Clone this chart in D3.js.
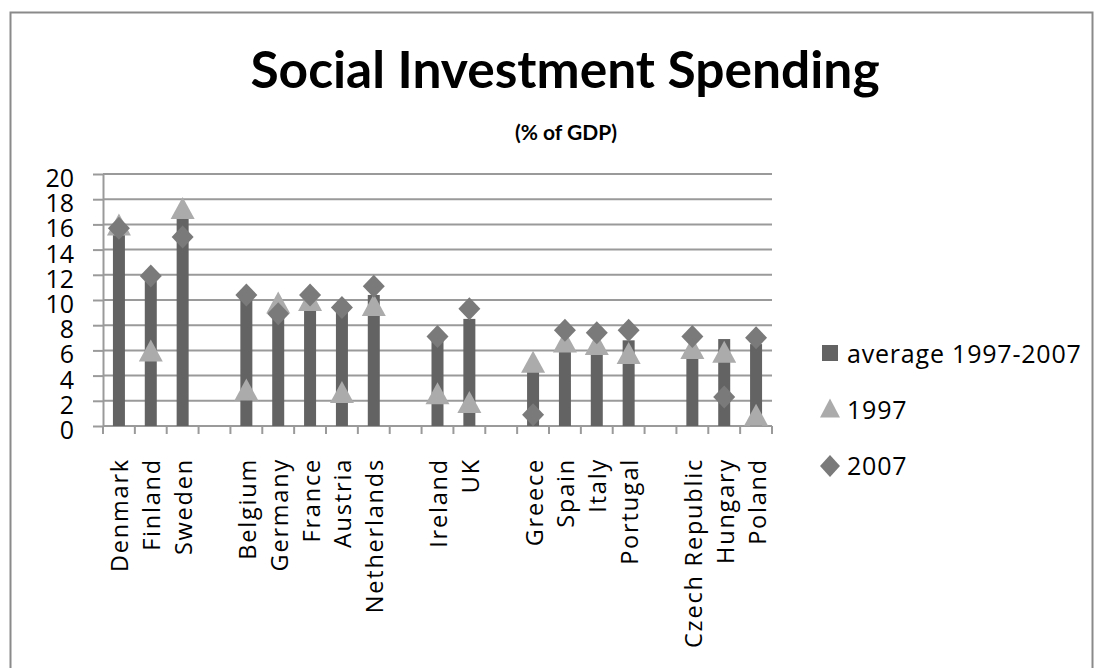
<!DOCTYPE html>
<html>
<head>
<meta charset="utf-8">
<script src="https://cdn.jsdelivr.net/npm/d3@7"></script>
<style>
  body { margin: 0; background: #fff; }
  text { font-family: "Open Sans", sans-serif; fill: #000; }
</style>
</head>
<body>
<div id="chart"></div>
<script>
// Categories (empty strings are the gaps between country groups)
var countries = ["Denmark", "Finland", "Sweden", "",
  "Belgium", "Germany", "France", "Austria", "Netherlands", "",
  "Ireland", "UK", "",
  "Greece", "Spain", "Italy", "Portugal", "",
  "Czech Republic", "Hungary", "Poland"];

// Series values, % of GDP (null = gap)
var avg9707 = [16, 11.5, 16.5, null, 10.2, 9.2, 9.5, 9.1, 10.4, null, 6.8, 8.5, null, 4.3, 6.4, 5.9, 6.8, null, 5.5, 6.9, 6.5];
var v1997 = [16, 6, 17.3, null, 2.9, 9.8, 10, 2.7, 9.6, null, 2.6, 1.9, null, 5.1, 6.7, 6.5, 5.8, null, 6.2, 5.9, 0.9];
var v2007 = [15.7, 11.9, 15, null, 10.4, 8.9, 10.4, 9.4, 11.1, null, 7.1, 9.3, null, 0.9, 7.6, 7.4, 7.6, null, 7.1, 2.3, 7];

var yTicks = [0, 2, 4, 6, 8, 10, 12, 14, 16, 18, 20];

var svgWidth = 1104;
var svgHeight = 668;

var margin = {top: 174, right: 332, bottom: 242, left: 103};
var width = svgWidth - margin.left - margin.right;
var height = svgHeight - margin.top - margin.bottom;

var barColor = "#636363";
var triColor = "#ababab";
var diaColor = "#7a7a7a";
var gridColor = "#9a9a9a";

var svg = d3.select("#chart")
  .append("svg")
  .attr("width", svgWidth)
  .attr("height", svgHeight);

// outer border (runs off the bottom of the picture)
svg.append("rect")
  .attr("x", 10.5)
  .attr("y", 12.5)
  .attr("width", 1082)
  .attr("height", 700)
  .attr("fill", "none")
  .attr("stroke", "#8a8a8a")
  .attr("stroke-width", 2);

// titles
svg.append("text")
  .attr("x", 565)
  .attr("y", 88)
  .attr("text-anchor", "middle")
  .style("font-family", "Lato, sans-serif")
  .style("font-weight", "bold")
  .style("font-size", "51.5px")
  .text("Social Investment Spending");

svg.append("text")
  .attr("x", 566)
  .attr("y", 140)
  .attr("text-anchor", "middle")
  .style("font-family", "Lato, sans-serif")
  .style("font-weight", "bold")
  .style("font-size", "21px")
  .text("(% of GDP)");

var chartGroup = svg.append("g")
  .attr("transform", `translate(${margin.left}, ${margin.top})`);

var idx = d3.range(countries.length);

var xScale = d3.scaleBand()
  .domain(idx)
  .range([0, width])
  .paddingInner(0)
  .paddingOuter(0);

var yScale = d3.scaleLinear()
  .domain([0, 20])
  .range([height, 0]);

// horizontal gridlines
chartGroup.selectAll(".grid")
  .data(yTicks)
  .enter()
  .append("line")
  .attr("x1", 0)
  .attr("x2", width)
  .attr("y1", d => yScale(d))
  .attr("y2", d => yScale(d))
  .attr("stroke", gridColor)
  .attr("stroke-width", 2);

// y axis
var leftAxis = d3.axisLeft(yScale)
  .tickValues(yTicks)
  .tickSize(10)
  .tickSizeOuter(0)
  .tickPadding(19);

var yAxis = chartGroup.append("g").call(leftAxis);
yAxis.select(".domain").attr("stroke", gridColor).attr("stroke-width", 2);
yAxis.selectAll(".tick line").attr("stroke", gridColor).attr("stroke-width", 2);
yAxis.selectAll("text")
  .attr("dy", "0.5em")
  .style("font-family", "'Open Sans', sans-serif")
  .style("font-size", "25px")
  .attr("fill", "#000");

// x axis baseline and tick marks at band edges
chartGroup.append("line")
  .attr("x1", 0)
  .attr("x2", width)
  .attr("y1", height)
  .attr("y2", height)
  .attr("stroke", gridColor)
  .attr("stroke-width", 2);

chartGroup.selectAll(".xtick")
  .data(idx.concat([countries.length]))
  .enter()
  .append("line")
  .attr("x1", d => d * xScale.step())
  .attr("x2", d => d * xScale.step())
  .attr("y1", height)
  .attr("y2", height + 8)
  .attr("stroke", gridColor)
  .attr("stroke-width", 2);

// category labels, rotated
chartGroup.selectAll(".xlabel")
  .data(idx)
  .enter()
  .append("text")
  .attr("transform", d => `translate(${xScale(d) + xScale.bandwidth() / 2 + 1}, ${height + 32}) rotate(-90)`)
  .attr("dy", "0.36em")
  .attr("text-anchor", "end")
  .style("font-size", "23.5px")
  .style("letter-spacing", "1.8px")
  .text(d => countries[d]);

var barW = 12;

// bars: average 1997-2007
chartGroup.selectAll(".bar")
  .data(idx.filter(i => avg9707[i] != null))
  .enter()
  .append("rect")
  .attr("x", d => xScale(d) + xScale.bandwidth() / 2 - barW / 2)
  .attr("y", d => yScale(avg9707[d]))
  .attr("width", barW)
  .attr("height", d => height - yScale(avg9707[d]))
  .attr("fill", barColor);

function triPath(w, h) {
  return `M0,${-h / 2}L${w / 2},${h / 2}L${-w / 2},${h / 2}Z`;
}
function diaPath(w, h) {
  return `M0,${-h / 2}L${w / 2},0L0,${h / 2}L${-w / 2},0Z`;
}

// 1997 triangles
chartGroup.selectAll(".tri")
  .data(idx.filter(i => v1997[i] != null))
  .enter()
  .append("path")
  .attr("d", triPath(24, 22))
  .attr("transform", d => `translate(${xScale(d) + xScale.bandwidth() / 2}, ${yScale(v1997[d])})`)
  .attr("fill", triColor);

// 2007 diamonds
chartGroup.selectAll(".dia")
  .data(idx.filter(i => v2007[i] != null))
  .enter()
  .append("path")
  .attr("d", diaPath(22, 23))
  .attr("transform", d => `translate(${xScale(d) + xScale.bandwidth() / 2}, ${yScale(v2007[d])})`)
  .attr("fill", diaColor);

// legend
var legend = svg.append("g").attr("transform", "translate(830, 0)");

legend.append("rect")
  .attr("x", -8).attr("y", 345).attr("width", 16).attr("height", 16)
  .attr("fill", barColor);
legend.append("path")
  .attr("d", triPath(20, 19))
  .attr("transform", "translate(0, 408)")
  .attr("fill", triColor);
legend.append("path")
  .attr("d", diaPath(20, 22))
  .attr("transform", "translate(0, 466)")
  .attr("fill", diaColor);

var legendItems = ["average 1997-2007", "1997", "2007"];
var legendY = [354, 410, 466];
legend.selectAll(".ltext")
  .data(legendItems)
  .enter()
  .append("text")
  .attr("x", 17)
  .attr("y", (d, i) => legendY[i])
  .attr("dy", "0.36em")
  .style("font-size", "25px")
  .style("letter-spacing", "0.8px")
  .text(d => d);
</script>
</body>
</html>
